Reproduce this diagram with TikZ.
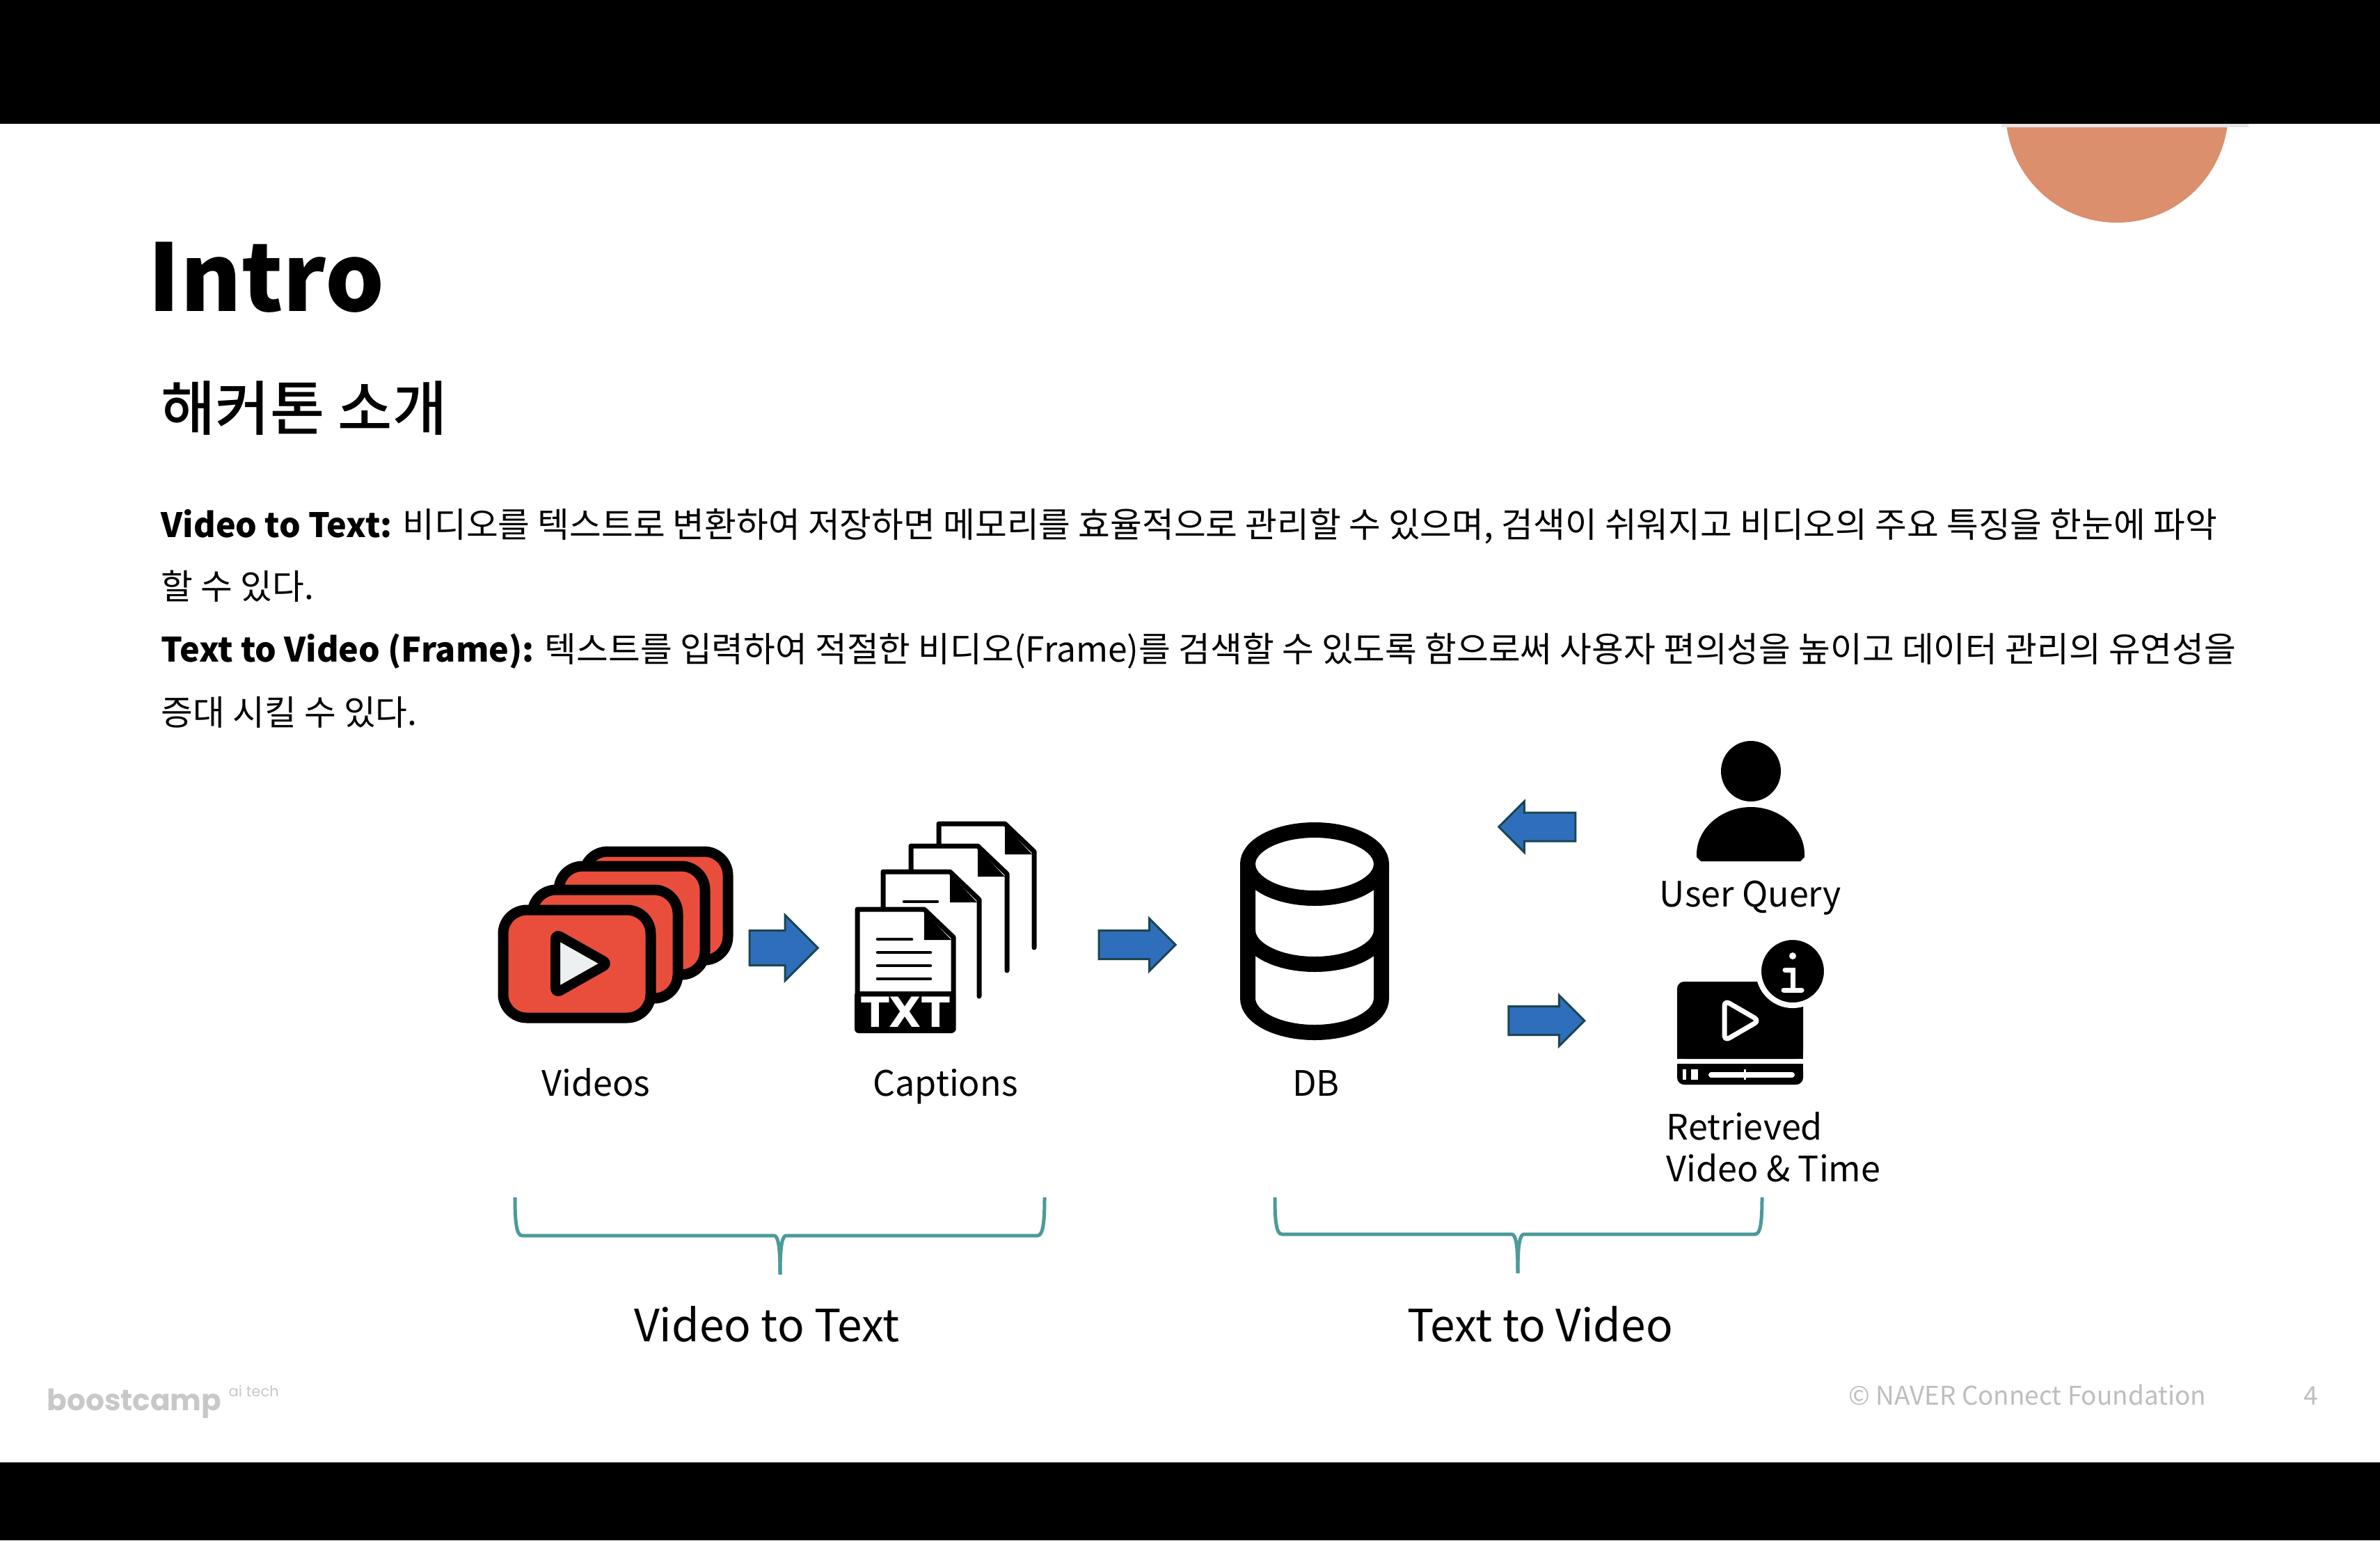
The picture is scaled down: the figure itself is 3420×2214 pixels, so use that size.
\documentclass[tikz,border=0pt]{standalone}
\usepackage{fontspec}
\setmainfont{Noto Sans CJK KR}
\newfontfamily\dejabold{DejaVu Sans Bold}
\newfontfamily\campfont{Poppins}
\newfontfamily\subfont{Noto Sans CJK KR Medium}
\newcommand{\leadin}[1]{{\fontsize{13.75}{14}\selectfont\bfseries #1}}
\usetikzlibrary{positioning,shapes.arrows}
\definecolor{salmon}{HTML}{DB8F6D}
\definecolor{arrowblue}{HTML}{2F6EBA}
\definecolor{arrowedge}{HTML}{1A4652}
\definecolor{clipred}{HTML}{E94E3D}
\definecolor{playgrey}{HTML}{ECF0F1}
\definecolor{braceteal}{HTML}{4C9A9A}
\definecolor{footgrey}{HTML}{BEBEBE}
\definecolor{logogrey}{HTML}{C8C8C8}
\definecolor{barshadow}{HTML}{E4E4E4}
\tikzset{
  iconbox/.style={inner sep=0pt,outer sep=0pt},
  iconlabel/.style={inner sep=0pt,outer sep=0pt,text height=0.5cm,text depth=0.1cm,font=\fontsize{14.3}{15}\selectfont},
  bodyline/.style={inner sep=0pt,anchor=base west,font=\fontsize{14.15}{14}\selectfont},
  footer/.style={inner sep=0pt,anchor=base west,text=footgrey},
  blockarrow/.style={single arrow,draw=arrowedge,fill=arrowblue,line width=0.03cm,inner xsep=0pt,outer sep=0pt},
  clipcard/.style={draw=black,fill=clipred,line width=0.15cm,rounded corners=0.34cm},
  pagesheet/.style={draw=black,fill=white,line width=0.07cm,line join=round,line cap=round},
  pagerule/.style={black,line width=0.045cm,line cap=round},
  dbstroke/.style={black,line width=0.22cm},
  bracket/.style={draw=braceteal,line width=0.05cm}
}

\begin{document}
\begin{tikzpicture}[x=0.01cm,y=-0.01cm]
    \useasboundingbox (0,0) rectangle (3420,2214);
    \fill[white] (0,0) rectangle (3420,2214);
    \fill[salmon] (3042,160) circle (160);
    \fill[barshadow] (2876,178) rectangle (3231,183);
    \fill[black] (0,0) rectangle (3420,178);
    \fill[black] (0,2102) rectangle (3420,2214);

    \node[inner sep=0pt,anchor=base west,font=\fontsize{38}{38}\selectfont\bfseries] (title) at (212,447) {Intro}; %
    \node[inner sep=0pt,anchor=base west,font=\fontsize{24.2}{24}\subfont] (subtitle) at (231,618) {해커톤 소개}; %
    \node[bodyline] (lineone) at (231,772) {\leadin{Video to Text:} 비디오를 텍스트로 변환하여 저장하면 메모리를 효율적으로 관리할 수 있으며, 검색이 쉬워지고 비디오의 주요 특징을 한눈에 파악}; %
    \node[bodyline] (linetwo) at (231,861) {할 수 있다.}; %
    \node[bodyline] (linethree) at (231,951) {\leadin{Text to Video (Frame):} 텍스트를 입력하여 적절한 비디오(Frame)를 검색할 수 있도록 함으로써 사용자 편의성을 높이고 데이터 관리의 유연성을}; %
    \node[bodyline] (linefour) at (231,1042) {증대 시킬 수 있다.}; %

    \node[iconbox,minimum width=3.37cm,minimum height=2.53cm] (videostack) at (884.5,1343.5) {}; %
    \node[iconbox,minimum width=2.61cm,minimum height=3.04cm] (pagestack) at (1358.5,1333) {}; %
    \node[iconbox,minimum width=2.12cm,minimum height=3.15cm] (dbicon) at (1889,1338.5) {}; %
    \node[iconbox,minimum width=1.55cm,minimum height=1.73cm] (usericon) at (2515.5,1151.5) {}; %
    \node[iconbox,minimum width=2.11cm,minimum height=2.08cm] (resulticon) at (2515.5,1455) {}; %

    \node[iconlabel, below=0.55cm of videostack, xshift=-0.28cm] (videos) {Videos};
    \node[iconlabel, below=0.40cm of pagestack] (captions) {Captions};
    \node[iconlabel, below=0.29cm of dbicon, xshift=0.02cm] (db) {DB};
    \node[iconlabel, below=0.15cm of usericon] (userquery) {User Query};
    \node[iconlabel, below=0.29cm of resulticon.south west, anchor=north west, xshift=-0.15cm] (retrieved) {Retrieved};
    \node[iconlabel, below=0cm of retrieved.south west, anchor=north west] (videotime) {Video \& Time};

    \node[blockarrow, right=0.24cm of videostack, yshift=-0.19cm, minimum height=0.98cm, inner ysep=0.235cm, single arrow head extend=0.22cm] (arrowone) {};
    \node[blockarrow, right=0.90cm of pagestack, yshift=-0.25cm, minimum height=1.10cm, inner ysep=0.19cm, single arrow head extend=0.17cm] (arrowtwo) {};
    \node[blockarrow, shape border rotate=180, left=1.74cm of usericon, yshift=-0.37cm, minimum height=1.10cm, inner ysep=0.19cm, single arrow head extend=0.16cm] (arrowquery) {};
    \node[blockarrow, left=1.33cm of resulticon, yshift=-0.12cm, minimum height=1.09cm, inner ysep=0.19cm, single arrow head extend=0.16cm] (arrowresult) {};

    % video stack
    \draw[clipcard] (839,1224) rectangle (1046,1380);
    \draw[clipcard] (803,1245) rectangle (1013,1401);
    \draw[clipcard] (765,1279) rectangle (974,1435);
    \draw[clipcard] (723,1308) rectangle (935,1463);
    \draw[fill=playgrey,line width=0.14cm,line join=round,rounded corners=0.08cm] (798,1342) -- (874,1385) -- (798,1428) -- cycle;

    % caption pages
    \draw[pagesheet] (1349,1270) -- (1349,1184) -- (1444,1184) -- (1486,1224) -- (1486,1362);
    \fill[black] (1444,1187) -- (1444,1228) -- (1483,1228) -- cycle;
    \draw[pagesheet] (1309,1300) -- (1309,1216) -- (1405,1216) -- (1447,1256) -- (1447,1395);
    \fill[black] (1405,1219) -- (1405,1260) -- (1444,1260) -- cycle;
    \draw[pagesheet] (1269,1340) -- (1269,1253) -- (1365,1253) -- (1407,1293) -- (1407,1432);
    \fill[black] (1365,1256) -- (1365,1297) -- (1404,1297) -- cycle;
    \draw[pagerule] (1299,1296) -- (1347,1296);
    \draw[pagesheet] (1232,1480) -- (1232,1307) -- (1328,1307) -- (1370,1347) -- (1370,1480) -- cycle;
    \fill[black] (1328,1310) -- (1328,1351) -- (1367,1351) -- cycle;
    \draw[pagerule] (1261,1350) -- (1310,1350);
    \draw[pagerule] (1261,1369) -- (1337,1369);
    \draw[pagerule] (1261,1388) -- (1337,1388);
    \draw[pagerule] (1261,1407) -- (1337,1407);
    \fill[black,rounded corners=0.06cm] (1228,1425) rectangle (1373,1485);
    \node[inner sep=0pt,text=white,font=\fontsize{17}{17}\dejabold] (txtmark) at (1301,1455) {TXT}; %

    % database
    \draw[dbstroke] (1889,1242) ellipse (96 and 49);
    \draw[dbstroke] (1793,1242) -- (1793,1435) arc (180:0:96 and 49) -- (1985,1242);
    \draw[dbstroke] (1793,1337) arc (180:0:96 and 49);

    % user
    \fill[black] (2516,1108.5) ellipse (43 and 43.5);
    \fill[black] (2438,1228) .. controls (2438,1190) and (2475,1160) .. (2516,1160) .. controls (2557,1160) and (2593,1190) .. (2593,1228) -- (2593,1232) -- (2587,1238) -- (2444,1238) -- (2438,1232) -- cycle;

    % retrieved clip
    \fill[black,rounded corners=0.1cm] (2410,1411) -- (2591,1411) -- (2591,1522) -- (2410,1522) -- cycle;
    \fill[black,rounded corners=0.1cm] (2410,1529) -- (2591,1529) -- (2591,1559) -- (2410,1559) -- cycle;
    \fill[black] (2410,1522) rectangle (2591,1510);
    \fill[black] (2410,1529) rectangle (2591,1540);
    \draw[white,line width=0.07cm,line join=round,rounded corners=0.08cm] (2478,1438) -- (2528,1467) -- (2478,1496) -- cycle;
    \draw[white,line width=0.08cm,line cap=round] (2459,1545) -- (2575,1545);
    \draw[white,line width=0.03cm] (2507,1537) -- (2507,1552);
    \fill[white] (2418,1537) rectangle (2423,1552);
    \fill[white] (2430,1537) rectangle (2440,1552);
    \fill[black,draw=white,line width=0.08cm] (2576,1396) circle (49);
    \fill[white] (2576,1374) circle (5);
    \draw[white,line width=0.07cm,line cap=round] (2565,1394) -- (2576,1394) -- (2576,1423);
    \draw[white,line width=0.07cm,line cap=round] (2563,1423) -- (2589,1423);

    % brackets
    \draw[bracket] (740,1721) .. controls (740,1755) and (742,1776) .. (750,1776) -- (1112,1776) .. controls (1118,1776) and (1121,1790) .. (1121,1832);
    \draw[bracket] (1501,1721) .. controls (1501,1755) and (1499,1776) .. (1491,1776) -- (1130,1776) .. controls (1124,1776) and (1121,1790) .. (1121,1832);
    \draw[bracket] (1832,1721) .. controls (1832,1755) and (1834,1774) .. (1842,1774) -- (2172,1774) .. controls (2178,1774) and (2181,1788) .. (2181,1830);
    \draw[bracket] (2532,1721) .. controls (2532,1755) and (2530,1774) .. (2522,1774) -- (2190,1774) .. controls (2184,1774) and (2181,1788) .. (2181,1830);
    \node[inner sep=0pt,anchor=base,font=\fontsize{18.2}{18}\selectfont] (videototext) at (1102,1928) {Video to Text}; %
    \node[inner sep=0pt,anchor=base,font=\fontsize{18.2}{18}\selectfont] (texttovideo) at (2213,1928) {Text to Video}; %

    % footer
    \node[footer,text=logogrey,font=\fontsize{12}{12}\campfont\bfseries] (camplogo) at (67,2027) {boostcamp};
    \node[footer,text=logogrey,font=\fontsize{6}{6}\campfont] (camptag) at (328,2007) {ai tech};
    \node[footer,font=\fontsize{10.5}{10.5}\selectfont] (copyright) at (2656,2019) {© NAVER Connect Foundation};
    \node[footer,font=\fontsize{10.5}{10.5}\selectfont] (pagenum) at (3310,2019) {4};
\end{tikzpicture}
\end{document}
